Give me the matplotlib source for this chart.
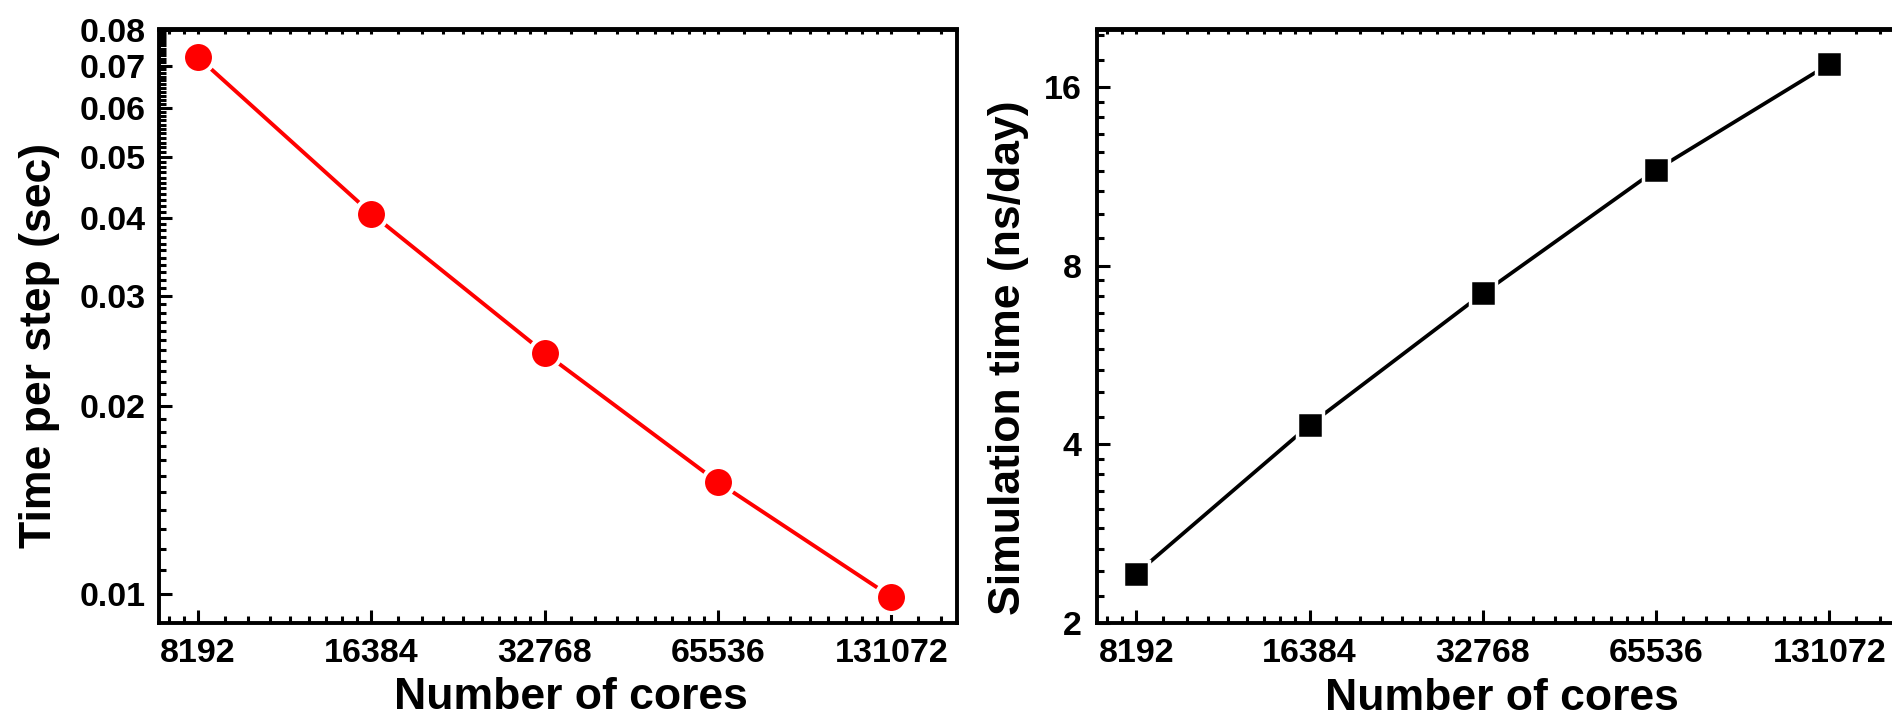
import matplotlib
matplotlib.use("Agg")
import matplotlib.pyplot as plt
from matplotlib.ticker import FixedLocator, NullFormatter

plt.rcParams['font.family'] = ['Liberation Sans', 'DejaVu Sans']
plt.rcParams['font.weight'] = 'bold'

# data
cores = [8192, 16384, 32768, 65536, 131072]
core_labels = ['8192', '16384', '32768', '65536', '131072']
time_per_step = [0.0722, 0.0406, 0.0243, 0.0151, 0.0099]
sim_time = [2.42, 4.31, 7.18, 11.6, 17.5]
left_yticks = [0.01, 0.02, 0.03, 0.04, 0.05, 0.06, 0.07, 0.08]
left_ylabels = ['0.01', '0.02', '0.03', '0.04', '0.05', '0.06', '0.07', '0.08']
right_yticks = [2, 4, 8, 16]
right_ylabels = ['2', '4', '8', '16']

XLIM = (6990, 170300)
W, H = 1892, 720


def subdivide(edges, n, lo, hi):
    # Origin style minor ticks: n linear steps inside every major interval
    out = []
    for a, b in zip(edges[:-1], edges[1:]):
        for k in range(1, n + 1):
            v = a + (b - a) * k / (n + 1)
            if lo < v < hi:
                out.append(v)
    return out


def style_axes(ax, ylim, yticks, ylabels, yminor, ypad):
    ax.set_xscale('log', base=2)
    ax.set_xlim(*XLIM)
    ax.set_ylim(*ylim)
    ax.set_xticks(cores, core_labels)
    ax.set_yticks(yticks, ylabels)
    oct_edges = [4096 * 2 ** i for i in range(7)]
    xminor = subdivide(oct_edges, 8, *XLIM)
    ax.xaxis.set_minor_locator(FixedLocator(xminor))
    ax.yaxis.set_minor_locator(FixedLocator(yminor))
    ax.xaxis.set_minor_formatter(NullFormatter())
    ax.yaxis.set_minor_formatter(NullFormatter())
    for s in ax.spines.values():
        s.set_linewidth(2.8)
    ax.tick_params(which='major', direction='in', length=9.5, width=2.2,
                   labelsize=24.5, top=False, right=False)
    ax.tick_params(which='minor', direction='in', length=4.8, width=2.2,
                   top=False, right=False)
    ax.tick_params(axis='x', which='major', pad=11)
    ax.tick_params(axis='y', which='major', pad=ypad)
    # small ticks along the top spine
    sec = ax.secondary_xaxis('top')
    sec.set_xticks([])
    sec.xaxis.set_minor_locator(FixedLocator(sorted(cores + xminor)))
    sec.xaxis.set_minor_formatter(NullFormatter())
    sec.tick_params(which='minor', direction='in', length=3.5, width=2.2)
    sec.spines['top'].set_linewidth(2.8)


fig = plt.figure(figsize=(W / 100, H / 100), dpi=100)
bottom = 1 - 622.7 / H
height = 593.2 / H
ax1 = fig.add_axes([158.5 / W, bottom, 798.2 / W, height])
ax2 = fig.add_axes([1096.7 / W, bottom, 798.2 / W, height])

# left panel: time per step
ax1.plot(cores, time_per_step, color='#ff0000', lw=2.8, zorder=2)
ax1.plot(cores, time_per_step, 'o', ms=22.3, mfc='#ff0000', mec='white',
         mew=2.9, zorder=3, clip_on=False)
ax1.set_yscale('log')
style_axes(ax1, (0.009, 0.08), left_yticks, left_ylabels,
           subdivide(left_yticks, 10, 0.009, 0.08), 9.5)
ax1.set_xlabel('Number of cores', fontsize=32, fontweight='bold', va='baseline')
ax1.xaxis.set_label_coords(0.517, -0.145)
ax1.set_ylabel('Time per step (sec)', fontsize=32, fontweight='bold', va='baseline')
ax1.yaxis.set_label_coords(-0.1347, 0.468)

# right panel: simulation time
ax2.plot(cores, sim_time, color='black', lw=2.7, zorder=2)
ax2.plot(cores, sim_time, 's', ms=18.4, mfc='black', mec='white',
         mew=2.5, zorder=3, clip_on=False)
ax2.set_yscale('log', base=2)
style_axes(ax2, (2, 20), right_yticks, right_ylabels,
           subdivide([1, 2, 4, 8, 16, 32], 8, 2, 20), 11)
ax2.set_xlabel('Number of cores', fontsize=32, fontweight='bold', va='baseline')
ax2.xaxis.set_label_coords(0.508, -0.148)
ax2.set_ylabel('Simulation time (ns/day)', fontsize=32, fontweight='bold', va='baseline')
ax2.yaxis.set_label_coords(-0.0961, 0.446)

fig.savefig('out.png', dpi=100)
